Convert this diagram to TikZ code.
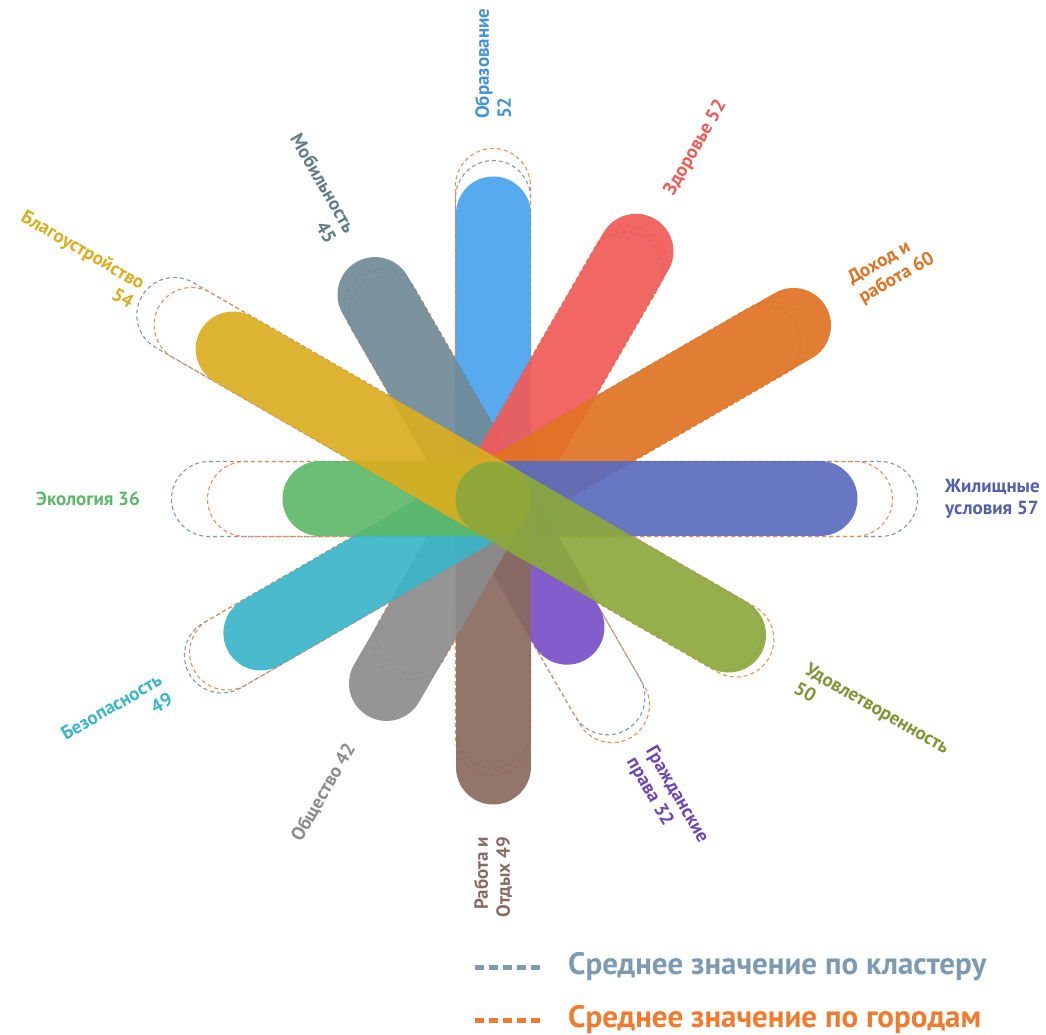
\documentclass[tikz,border=0pt]{standalone}
\usepackage{fontspec}
\setmainfont{PT Sans}
\usepackage{tikz}
\definecolor{eduC}{HTML}{4AA3EE}
\definecolor{healthC}{HTML}{F05A57}
\definecolor{incomeC}{HTML}{E07322}
\definecolor{houseC}{HTML}{5B6BBF}
\definecolor{satisC}{HTML}{8BA83C}
\definecolor{civilC}{HTML}{7A4FC8}
\definecolor{workC}{HTML}{8A6A5E}
\definecolor{societyC}{HTML}{8C8C8C}
\definecolor{safetyC}{HTML}{3BB5C8}
\definecolor{ecoC}{HTML}{5DB86A}
\definecolor{landC}{HTML}{D9AE20}
\definecolor{mobC}{HTML}{6F8A96}
\definecolor{clusterC}{HTML}{7D9AB0}
\definecolor{cityC}{HTML}{F07A2E}
\tikzstyle{bar} = [line width=75pt, line cap=round, opacity=0.92]
\tikzstyle{clusterline} = [draw=clusterC, line width=1.1pt, dash pattern=on 4pt off 3pt]
\tikzstyle{cityline} = [draw=cityC!85!white, line width=1.1pt, dash pattern=on 4pt off 3pt]
\tikzstyle{lbl} = [font=\bfseries\fontsize{19}{22}\selectfont, inner sep=0pt]
\tikzstyle{legend} = [font=\bfseries\fontsize{31}{36}\selectfont, inner sep=0pt, anchor=west]
\tikzstyle{legdash} = [line width=5pt, dash pattern=on 9pt off 5pt]
\newcommand{\avgcapsule}[3]{\draw[#3, rotate=#1] (0,-37.5) -- (#2,-37.5) arc[start angle=-90, end angle=90, radius=37.5] -- (0,37.5) arc[start angle=90, end angle=270, radius=37.5] -- cycle;}

\begin{document}
\begin{tikzpicture}[x=1pt, y=1pt]
			\useasboundingbox (-493,-536) rectangle (553,499);
			\coordinate (c) at (0,0);
			
			\avgcapsule{90}{301}{clusterline}
			\avgcapsule{90}{313}{cityline}
			\avgcapsule{60}{265}{clusterline}
			\avgcapsule{60}{272}{cityline}
			\avgcapsule{30}{312}{clusterline}
			\avgcapsule{30}{320}{cityline}
			\avgcapsule{0}{387}{clusterline}
			\avgcapsule{0}{362}{cityline}
			\avgcapsule{-30}{268}{clusterline}
			\avgcapsule{-30}{281}{cityline}
			\avgcapsule{-60}{229}{clusterline}
			\avgcapsule{-60}{238}{cityline}
			\avgcapsule{-90}{231}{clusterline}
			\avgcapsule{-90}{239}{cityline}
			\avgcapsule{-120}{165}{clusterline}
			\avgcapsule{-120}{158}{cityline}
			\avgcapsule{-150}{313}{clusterline}
			\avgcapsule{-150}{307}{cityline}
			\avgcapsule{180}{284}{clusterline}
			\avgcapsule{180}{248}{cityline}
			\avgcapsule{150}{368}{clusterline}
			\avgcapsule{150}{348}{cityline}
			\avgcapsule{120}{222}{clusterline}
			\avgcapsule{120}{214}{cityline}
			
			\coordinate (edu) at (90:285);
			\coordinate (mob) at (120:236);
			\coordinate (health) at (60:286);
			\coordinate (income) at (30:347);
			\coordinate (house) at (0:327);
			\coordinate (civil) at (-60:148);
			\coordinate (work) at (-90:268);
			\coordinate (society) at (-120:213);
			\coordinate (safety) at (-150:268);
			\coordinate (eco) at (180:173);
			\coordinate (land) at (150:300);
			\coordinate (satis) at (-30:272);
			
			\draw [bar, eduC] (c) -- (edu);
			\draw [bar, mobC] (c) -- (mob);
			\draw [bar, healthC] (c) -- (health);
			\draw [bar, incomeC] (c) -- (income);
			\draw [bar, houseC] (c) -- (house);
			\draw [bar, civilC] (c) -- (civil);
			\draw [bar, workC] (c) -- (work);
			\draw [bar, societyC] (c) -- (society);
			\draw [bar, safetyC] (c) -- (safety);
			\draw [bar, ecoC] (c) -- (eco);
			\draw [bar, landC] (c) -- (land);
			\draw [bar, satisC] (c) -- (satis);
			
			\node (eduL) [lbl, text=eduC!90!black, rotate=90, anchor=west, align=left] at (90:380) {Образование\\52};
			\node (healthL) [lbl, text=healthC, rotate=60, anchor=west] at (60:352) {Здоровье 52};
			\node (incomeL) [lbl, text=incomeC, rotate=30, anchor=west, align=left] at (30:418) {Доход и\\работа 60};
			\node (houseL) [lbl, text=houseC!90!black, anchor=west, align=left] at (0:452) {Жилищные\\условия 57};
			\node (satisL) [lbl, text=satisC!90!black, rotate=-30, anchor=west, align=left] at (-30:356) {Удовлетворенность\\50};
			\node (civilL) [lbl, text=civilC!90!black, rotate=-60, anchor=west, align=left] at (-60:294) {Гражданские\\права 32};
			\node (workL) [lbl, text=workC, rotate=90, anchor=east, align=right] at (-90:338) {Работа и\\Отдых 49};
			\node (societyL) [lbl, text=societyC, rotate=60, anchor=east] at (-120:284) {Общество 42};
			\node (safetyL) [lbl, text=safetyC, rotate=30, anchor=east, align=right] at (-150:378) {Безопасность\\49};
			\node (ecoL) [lbl, text=ecoC, anchor=east] at (180:353) {Экология 36};
			\node (landL) [lbl, text=landC, rotate=-30, anchor=east, align=right] at (150:410) {Благоустройство\\54};
			\node (mobL) [lbl, text=mobC!90!black, rotate=-60, anchor=east, align=right] at (120:303) {Мобильность\\45};
			
			\node (clusterL) [legend, text=clusterC] at (75,-468) {Среднее значение по кластеру};
			\node (cityL) [legend, text=cityC] at (75,-521) {Среднее значение по городам};
			\coordinate (clusterA) at (-18,-468);
			\coordinate (clusterB) at (47,-468);
			\coordinate (cityA) at (-18,-521);
			\coordinate (cityB) at (47,-521);
			\draw [legdash, clusterC] (clusterA) -- (clusterB);
			\draw [legdash, cityC] (cityA) -- (cityB);
\end{tikzpicture}
\end{document}
